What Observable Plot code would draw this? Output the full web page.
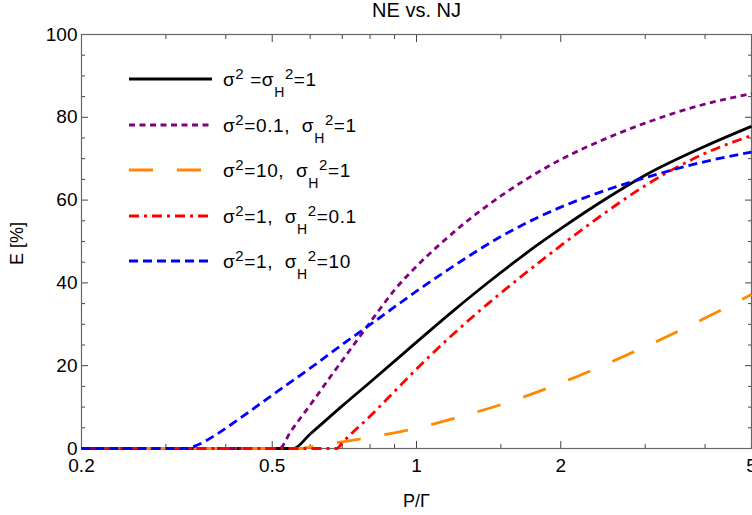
<!DOCTYPE html>
<html>
<head>
<meta charset="utf-8">
<script src="https://cdn.jsdelivr.net/npm/d3@7"></script>
<script src="https://cdn.jsdelivr.net/npm/@observablehq/plot@0.6"></script>
<style>
  html, body { margin: 0; padding: 0; background: white; }
  #wrap { position: relative; width: 752px; height: 515px; overflow: hidden; }
  #legend { position: absolute; left: 0; top: 0; pointer-events: none; }
</style>
</head>
<body>
<div id="wrap"></div>
<script>
// ---- data ----
const title = "NE vs. NJ";
const xLabel = "P/Γ";
const yLabel = "E [%]";

const majorX = [0.2, 0.5, 1, 2, 5];
const minorX = [0.3, 0.4, 0.6, 0.7, 0.8, 0.9, 1.5, 3, 4];
const majorY = [0, 20, 40, 60, 80, 100];
const minorY = [5, 10, 15, 25, 30, 35, 45, 50, 55, 65, 70, 75, 85, 90, 95];

// sigma^2 = sigma_H^2 = 1 (black, solid)
const blackX = [0.2, 0.553, 0.6, 0.7, 0.8, 0.9, 1.0, 1.2, 1.4, 1.6, 1.8, 2.0, 2.5, 3.0, 4.0, 5];
const blackY = [0, 0, 3.5, 10.3, 16.0, 21.1, 25.7, 33.5, 39.8, 45.0, 49.4, 53.1, 60.5, 66.0, 73.0, 77.8];

// sigma^2 = 0.1, sigma_H^2 = 1 (purple, dotted)
const purpleX = [0.2, 0.518, 0.545, 0.6, 0.66, 0.75, 0.839, 0.9, 1.0, 1.136, 1.3, 1.5, 2.0, 2.5, 3.0, 4.0, 5];
const purpleY = [0, 0, 3.9, 10.5, 17.2, 26.0, 33.7, 38.3, 44.0, 50.0, 55.7, 61.0, 69.8, 75.0, 78.6, 83.2, 85.7];

// sigma^2 = 10, sigma_H^2 = 1 (orange, long dash)
const orangeX = [0.2, 0.572, 0.6, 0.7, 0.8, 0.9, 1.0, 1.2, 1.5, 2.0, 2.5, 3.0, 4.0, 5];
const orangeY = [0, 0, 0.35, 1.6, 2.7, 3.8, 4.9, 7.3, 10.6, 15.8, 20.5, 24.6, 31.5, 37.2];

// sigma^2 = 1, sigma_H^2 = 0.1 (red, dash-dot)
const redX = [0.2, 0.682, 0.7, 0.8, 0.9, 1.0, 1.2, 1.4, 1.6, 1.8, 2.0, 2.5, 3.0, 4.0, 5];
const redY = [0, 0, 1.4, 7.8, 13.8, 19.2, 27.9, 34.7, 40.2, 44.9, 49.0, 57.3, 63.5, 71.3, 75.6];

// sigma^2 = 1, sigma_H^2 = 10 (blue, dashed)
const blueX = [0.2, 0.332, 0.35, 0.38, 0.42, 0.5, 0.6, 0.7, 0.8, 0.9, 1.0, 1.2, 1.5, 2.0, 2.5, 3.0, 4.0, 5];
const blueY = [0, 0, 0.9, 3.2, 6.6, 12.9, 19.4, 25.1, 29.9, 34.2, 38.0, 44.2, 51.2, 58.3, 62.5, 65.4, 69.3, 71.6];

const seriesColors = ["#000000", "#800080", "#ff8800", "#ff0000", "#0000ff"];
const seriesDash = [null, "6,4.5", "24,24", "10,5,3,5", "9,5"];
const seriesDashOffset = [0, 0, 32, 0, 0];

// ---- build tables ----
const toRows = (xs, ys) => xs.map((x, i) => ({x, y: ys[i]}));
const seriesData = [
  toRows(blackX, blackY),
  toRows(purpleX, purpleY),
  toRows(orangeX, orangeY),
  toRows(redX, redY),
  toRows(blueX, blueY)
];

const tickColor = "#444";
const frameColor = "#666";
const FONT = "'Liberation Sans', Arial, sans-serif";

const lineMarks = seriesData.map((rows, i) => Plot.line(rows, {
  x: "x", y: "y",
  stroke: seriesColors[i],
  strokeWidth: 2.8,
  strokeDasharray: seriesDash[i] || undefined,
  strokeDashoffset: seriesDashOffset[i],
  strokeLinecap: "butt",
  curve: "monotone-x"
}));

const plot = Plot.plot({
  width: 752,
  height: 515,
  marginLeft: 81,
  marginRight: 1,
  marginTop: 34,
  marginBottom: 67,
  x: {type: "log", domain: [0.2, 5]},
  y: {domain: [0, 100]},
  style: {fontFamily: FONT, fontSize: "19px", background: "white", color: "black"},
  marks: [
    // ticks pointing inward (major + minor), on all four sides
    Plot.axisX(majorX, {anchor: "bottom", tickSize: 7, dy: -7, fill: "none", stroke: tickColor, label: null}),
    Plot.axisX(majorX, {anchor: "top", tickSize: 7, dy: 7, fill: "none", stroke: tickColor, label: null}),
    Plot.axisX(minorX, {anchor: "bottom", tickSize: 4, dy: -4, fill: "none", stroke: tickColor, label: null}),
    Plot.axisX(minorX, {anchor: "top", tickSize: 4, dy: 4, fill: "none", stroke: tickColor, label: null}),
    Plot.axisY(majorY, {anchor: "left", tickSize: 7, dx: 7, fill: "none", stroke: tickColor, label: null}),
    Plot.axisY(majorY, {anchor: "right", tickSize: 7, dx: -7, fill: "none", stroke: tickColor, label: null}),
    Plot.axisY(minorY, {anchor: "left", tickSize: 4, dx: 4, fill: "none", stroke: tickColor, label: null}),
    Plot.axisY(minorY, {anchor: "right", tickSize: 4, dx: -4, fill: "none", stroke: tickColor, label: null}),
    // tick labels
    Plot.axisX(majorX, {anchor: "bottom", tickSize: 0, tickPadding: 10, tickFormat: d => String(d), label: null, fill: "black"}),
    Plot.axisY(majorY, {anchor: "left", tickSize: 0, tickPadding: 4, tickFormat: d => String(d), label: null, fill: "black"}),
    Plot.frame({stroke: frameColor, strokeWidth: 1.2}),
    ...lineMarks,
    // title and axis labels
    Plot.text([title], {frameAnchor: "top", dy: -24, text: d => d, fontSize: 20, fill: "black", textAnchor: "middle", lineAnchor: "middle"}),
    Plot.text([xLabel], {frameAnchor: "bottom", dy: 53, text: d => d, fontSize: 18, fill: "black", textAnchor: "middle", lineAnchor: "middle"}),
    Plot.text([yLabel], {frameAnchor: "left", dx: -64, dy: 2, rotate: -90, text: d => d, fontSize: 18, fill: "black", textAnchor: "middle", lineAnchor: "middle"})
  ]
});

const wrap = document.getElementById("wrap");
wrap.appendChild(plot);

// ---- legend (inside the frame, top-left) ----
const legendLabels = [
  [["σ", 0], ["2", -1], [" =σ", 0], ["H", 1], ["2", -1], ["=1", 0]],
  [["σ", 0], ["2", -1], ["=0.1,  σ", 0], ["H", 1], ["2", -1], ["=1", 0]],
  [["σ", 0], ["2", -1], ["=10,  σ", 0], ["H", 1], ["2", -1], ["=1", 0]],
  [["σ", 0], ["2", -1], ["=1,  σ", 0], ["H", 1], ["2", -1], ["=0.1", 0]],
  [["σ", 0], ["2", -1], ["=1,  σ", 0], ["H", 1], ["2", -1], ["=10", 0]]
];
const NS = "http://www.w3.org/2000/svg";
const leg = document.createElementNS(NS, "svg");
leg.setAttribute("id", "legend");
leg.setAttribute("width", 752);
leg.setAttribute("height", 515);
const rowY = [79, 125, 170, 216, 261];
legendLabels.forEach((parts, i) => {
  const ln = document.createElementNS(NS, "line");
  ln.setAttribute("x1", 129); ln.setAttribute("x2", 212);
  ln.setAttribute("y1", rowY[i]); ln.setAttribute("y2", rowY[i]);
  ln.setAttribute("stroke", seriesColors[i]);
  ln.setAttribute("stroke-width", 2.8);
  if (seriesDash[i]) ln.setAttribute("stroke-dasharray", seriesDash[i]);
  leg.appendChild(ln);
  const t = document.createElementNS(NS, "text");
  t.setAttribute("x", 223);
  t.setAttribute("y", rowY[i] + 7);
  t.setAttribute("font-family", FONT);
  t.setAttribute("font-size", 19);
  t.setAttribute("letter-spacing", "0.6");
  t.setAttribute("fill", "black");
  t.style.whiteSpace = "pre";
  let cur = 0;
  parts.forEach(([s, lvl]) => {
    const ts = document.createElementNS(NS, "tspan");
    const target = lvl === -1 ? -7 : lvl === 1 ? 11 : 0;
    ts.setAttribute("dy", target - cur);
    cur = target;
    if (lvl !== 0) ts.setAttribute("font-size", lvl === -1 ? 15 : 14);
    ts.textContent = s;
    t.appendChild(ts);
  });
  leg.appendChild(t);
});
wrap.appendChild(leg);
</script>
</body>
</html>
